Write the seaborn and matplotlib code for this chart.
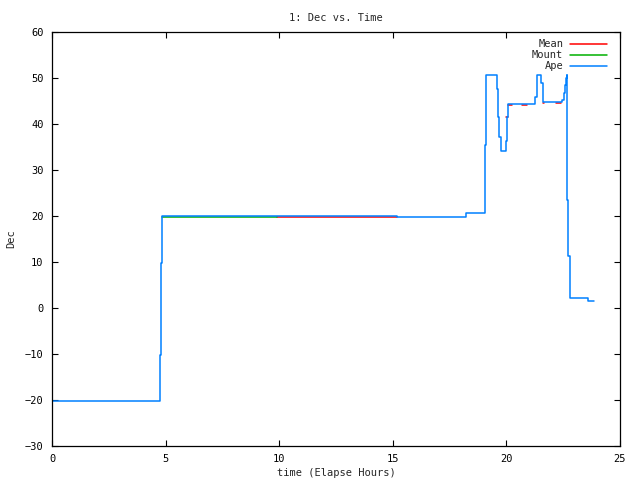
import numpy as np
import pandas as pd
import matplotlib
matplotlib.use("Agg")
import matplotlib.pyplot as plt
from matplotlib.lines import Line2D
import seaborn as sns

# Ape (blue) step data: time of change and value after it
ape_time = [0.0, 4.77, 4.80, 4.83, 15.2, 18.2, 19.08, 19.12, 19.57, 19.64,
            19.69, 19.75, 19.97, 20.04, 20.07, 21.24, 21.33, 21.54, 21.61,
            22.46, 22.53, 22.57, 22.62, 22.65, 22.68, 22.72, 22.78, 22.82,
            23.6, 23.85]
ape_dec = [-20.2, -10.2, 9.8, 19.9, 19.7, 20.6, 35.4, 50.7, 47.5, 41.6,
           37.2, 34.1, 36.2, 41.6, 44.4, 45.9, 50.7, 48.9, 44.7,
           45.2, 46.7, 48.5, 49.9, 50.7, 23.5, 11.2, 5.0, 2.1,
           1.5, 1.5]

# Mount (green)
mount_time = [4.85, 9.9]
mount_dec = [19.75, 19.75]

# Mean (red) segments
mean_seg = [1, 1, 2, 2, 3, 3, 4, 4, 5, 5, 6, 6]
mean_time = [9.9, 15.2, 19.99, 20.05, 20.07, 20.25, 20.7, 20.9,
             21.59, 21.64, 22.2, 22.42]
mean_dec = [19.75, 19.75, 41.6, 41.6, 44.1, 44.1, 44.2, 44.2,
            44.5, 44.5, 44.6, 44.6]

sns.set_style("ticks")
plt.rcParams["font.family"] = ["DejaVu Sans Mono"]

fig = plt.figure(figsize=(6.4, 4.8), dpi=100, facecolor="white")
ax = fig.add_axes([52 / 640, 34 / 480, 568 / 640, 414 / 480])

mean_df = pd.DataFrame({"t": mean_time, "dec": mean_dec, "seg": mean_seg})
sns.lineplot(data=mean_df, x="t", y="dec", units="seg", estimator=None,
             sort=False, color="#ff0000", lw=1.1, ax=ax)
sns.lineplot(x=mount_time, y=mount_dec, sort=False, estimator=None,
             color="#00b000", lw=1.1, ax=ax)
sns.lineplot(x=ape_time, y=ape_dec, sort=False, estimator=None,
             drawstyle="steps-post", color="#0080ff", lw=1.1, ax=ax)

ax.set_xlim(0, 25)
ax.set_ylim(-30, 60)
ax.set_xticks([0, 5, 10, 15, 20, 25])
ax.set_yticks(range(-30, 61, 10))
ax.tick_params(direction="in", length=4, width=0.8, top=True, right=True,
               labelsize=7.5, colors="black", pad=6)
for s in ax.spines.values():
    s.set_linewidth(0.9)
    s.set_color("black")

ax.set_title("1: Dec vs. Time", fontsize=7.5, pad=8)
ax.set_xlabel("time (Elapse Hours)", fontsize=7.5, labelpad=3)
ax.set_ylabel("Dec", fontsize=7.5, labelpad=6)

handles = [Line2D([], [], color="#ff0000", lw=1.1),
           Line2D([], [], color="#00b000", lw=1.1),
           Line2D([], [], color="#0080ff", lw=1.1)]
leg = ax.legend(handles, ["Mean", "Mount", "Ape"], loc="upper right",
                frameon=False, fontsize=7.5, markerfirst=False,
                handlelength=3.6, handletextpad=0.6, labelspacing=0.1,
                borderaxespad=0.3, bbox_to_anchor=(0.99, 1.0))
for t in leg.get_texts():
    t.set_ha("right")

fig.savefig("out.png", dpi=100)
